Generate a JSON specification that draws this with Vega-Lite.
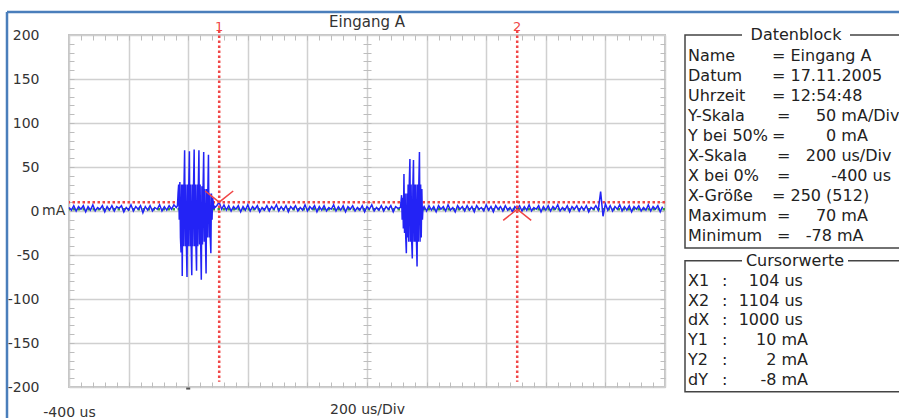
{
"$schema":"https://vega.github.io/schema/vega-lite/v6.json",
"width":596,"height":352,
"autosize":{"type":"none"},
"padding":{"left":69,"top":35,"right":234,"bottom":31},
"background":"#ffffff",
"config":{"view":{"stroke":"#c4c4c4","strokeWidth":2},"font":"DejaVu Sans","axis":{"labelFont":"DejaVu Sans","titleFont":"DejaVu Sans"}},
"datasets":{
"trace":[
{"t":-400,"i":4},{"t":-392,"i":1},{"t":-384,"i":6},{"t":-376,"i":0},{"t":-368,"i":5},{"t":-360,"i":2},{"t":-352,"i":6},{"t":-344,"i":-1},{"t":-336,"i":5},{"t":-328,"i":1},
{"t":-320,"i":7},{"t":-312,"i":0},{"t":-304,"i":4},{"t":-296,"i":2},{"t":-288,"i":6},{"t":-280,"i":-1},{"t":-272,"i":5},{"t":-264,"i":1},{"t":-256,"i":6},{"t":-248,"i":0},
{"t":-240,"i":5},{"t":-232,"i":3},{"t":-224,"i":6},{"t":-216,"i":-1},{"t":-208,"i":4},{"t":-200,"i":1},{"t":-192,"i":7},{"t":-184,"i":0},{"t":-176,"i":5},{"t":-168,"i":2},
{"t":-160,"i":6},{"t":-152,"i":-2},{"t":-144,"i":5},{"t":-136,"i":1},{"t":-128,"i":6},{"t":-120,"i":0},{"t":-112,"i":4},{"t":-104,"i":2},{"t":-96,"i":7},{"t":-88,"i":0},
{"t":-80,"i":5},{"t":-72,"i":1},{"t":-64,"i":6},{"t":-56,"i":2},{"t":-48,"i":7},{"t":-40,"i":4},
{"t":-36,"i":6},{"t":-34,"i":20},{"t":-32,"i":30},{"t":-30,"i":-10},{"t":-28,"i":33},{"t":-26,"i":-30},{"t":-24,"i":-47},{"t":-22,"i":30},{"t":-20,"i":-74},{"t":-18,"i":30},
{"t":-16,"i":-40},{"t":-14,"i":30},{"t":-12,"i":69},{"t":-10,"i":-40},{"t":-8,"i":30},{"t":-6,"i":-40},{"t":-4,"i":-75},{"t":-2,"i":30},{"t":0,"i":-40},{"t":2,"i":30},
{"t":4,"i":68},{"t":6,"i":-40},{"t":8,"i":30},{"t":10,"i":-40},{"t":12,"i":-73},{"t":14,"i":30},{"t":16,"i":-40},{"t":18,"i":32},{"t":20,"i":70},{"t":22,"i":-40},
{"t":24,"i":30},{"t":26,"i":-40},{"t":28,"i":-68},{"t":30,"i":30},{"t":32,"i":-40},{"t":34,"i":30},{"t":36,"i":69},{"t":38,"i":-38},{"t":40,"i":30},{"t":42,"i":-40},
{"t":44,"i":-78},{"t":46,"i":28},{"t":48,"i":-38},{"t":50,"i":28},{"t":52,"i":67},{"t":54,"i":-35},{"t":56,"i":25},{"t":58,"i":-35},{"t":60,"i":-71},{"t":62,"i":25},
{"t":64,"i":-30},{"t":66,"i":25},{"t":68,"i":64},{"t":70,"i":-30},{"t":72,"i":20},{"t":74,"i":-30},{"t":76,"i":-48},{"t":78,"i":20},{"t":80,"i":-10},{"t":82,"i":15},
{"t":84,"i":10},{"t":86,"i":2},{"t":88,"i":6},{"t":90,"i":4},
{"t":96,"i":6},{"t":104,"i":10},{"t":112,"i":2},{"t":120,"i":7},{"t":128,"i":1},{"t":136,"i":6},{"t":144,"i":0},{"t":152,"i":5},{"t":160,"i":2},{"t":168,"i":6},
{"t":176,"i":-1},{"t":184,"i":5},{"t":192,"i":1},{"t":200,"i":7},{"t":208,"i":0},{"t":216,"i":5},{"t":224,"i":2},{"t":232,"i":6},{"t":240,"i":-1},{"t":248,"i":4},
{"t":256,"i":1},{"t":264,"i":6},{"t":272,"i":0},{"t":280,"i":5},{"t":288,"i":2},{"t":296,"i":7},{"t":304,"i":0},{"t":312,"i":5},{"t":320,"i":1},{"t":328,"i":6},
{"t":336,"i":-1},{"t":344,"i":5},{"t":352,"i":2},{"t":360,"i":6},{"t":368,"i":0},{"t":376,"i":4},{"t":384,"i":1},{"t":392,"i":7},{"t":400,"i":0},{"t":408,"i":5},
{"t":416,"i":2},{"t":424,"i":6},{"t":432,"i":-1},{"t":440,"i":5},{"t":448,"i":1},{"t":456,"i":6},{"t":464,"i":0},{"t":472,"i":4},{"t":480,"i":2},{"t":488,"i":7},
{"t":496,"i":0},{"t":504,"i":5},{"t":512,"i":1},{"t":520,"i":6},{"t":528,"i":-1},{"t":536,"i":5},{"t":544,"i":2},{"t":552,"i":6},{"t":560,"i":0},{"t":568,"i":4},
{"t":576,"i":1},{"t":584,"i":6},{"t":592,"i":-1},{"t":600,"i":5},{"t":608,"i":2},{"t":616,"i":7},{"t":624,"i":0},{"t":632,"i":4},{"t":640,"i":1},{"t":648,"i":6},
{"t":656,"i":0},{"t":664,"i":5},{"t":672,"i":2},{"t":680,"i":6},{"t":688,"i":-1},{"t":696,"i":5},{"t":704,"i":3},
{"t":712,"i":4},{"t":714,"i":10},{"t":716,"i":18},{"t":718,"i":-10},{"t":720,"i":15},{"t":722,"i":-20},{"t":724,"i":42},{"t":726,"i":-25},{"t":728,"i":20},{"t":730,"i":-30},
{"t":732,"i":-48},{"t":734,"i":20},{"t":736,"i":-30},{"t":738,"i":30},{"t":740,"i":-35},{"t":742,"i":33},{"t":744,"i":59},{"t":746,"i":-35},{"t":748,"i":30},{"t":750,"i":-35},
{"t":752,"i":-54},{"t":754,"i":30},{"t":756,"i":58},{"t":758,"i":-35},{"t":760,"i":30},{"t":762,"i":-35},{"t":764,"i":30},{"t":766,"i":-35},{"t":768,"i":-63},{"t":770,"i":30},
{"t":772,"i":-35},{"t":774,"i":33},{"t":776,"i":67},{"t":778,"i":-35},{"t":780,"i":30},{"t":782,"i":-30},{"t":784,"i":25},{"t":786,"i":-10},{"t":788,"i":5},{"t":790,"i":3},
{"t":792,"i":5},{"t":800,"i":0},{"t":808,"i":6},{"t":816,"i":1},{"t":824,"i":5},{"t":832,"i":-1},{"t":840,"i":6},{"t":848,"i":2},{"t":856,"i":5},{"t":864,"i":0},
{"t":872,"i":7},{"t":880,"i":1},{"t":888,"i":4},{"t":896,"i":-1},{"t":904,"i":6},{"t":912,"i":2},{"t":920,"i":5},{"t":928,"i":0},{"t":936,"i":6},{"t":944,"i":1},
{"t":952,"i":5},{"t":960,"i":-1},{"t":968,"i":6},{"t":976,"i":2},{"t":984,"i":4},{"t":992,"i":0},{"t":1000,"i":7},{"t":1008,"i":1},{"t":1016,"i":5},{"t":1024,"i":-1},
{"t":1032,"i":6},{"t":1040,"i":2},{"t":1048,"i":5},{"t":1056,"i":0},{"t":1064,"i":6},{"t":1072,"i":1},{"t":1080,"i":4},{"t":1088,"i":-1},{"t":1096,"i":5},{"t":1104,"i":2},
{"t":1112,"i":6},{"t":1120,"i":0},{"t":1128,"i":5},{"t":1136,"i":1},{"t":1144,"i":7},{"t":1152,"i":0},{"t":1160,"i":4},{"t":1168,"i":2},{"t":1176,"i":6},{"t":1184,"i":-1},
{"t":1192,"i":5},{"t":1200,"i":1},{"t":1208,"i":6},{"t":1216,"i":0},{"t":1224,"i":5},{"t":1232,"i":2},{"t":1240,"i":7},{"t":1248,"i":0},{"t":1256,"i":4},{"t":1264,"i":1},
{"t":1272,"i":6},{"t":1280,"i":-1},{"t":1288,"i":5},{"t":1296,"i":2},{"t":1304,"i":6},{"t":1312,"i":0},{"t":1320,"i":5},{"t":1328,"i":1},{"t":1336,"i":6},{"t":1344,"i":-1},
{"t":1352,"i":4},{"t":1360,"i":2},{"t":1368,"i":6},{"t":1376,"i":1},{"t":1384,"i":22},{"t":1392,"i":-6},{"t":1400,"i":8},{"t":1408,"i":1},{"t":1416,"i":6},{"t":1424,"i":0},
{"t":1432,"i":5},{"t":1440,"i":2},{"t":1448,"i":7},{"t":1456,"i":0},{"t":1464,"i":5},{"t":1472,"i":1},{"t":1480,"i":6},{"t":1488,"i":-1},{"t":1496,"i":5},{"t":1504,"i":2},
{"t":1512,"i":6},{"t":1520,"i":0},{"t":1528,"i":4},{"t":1536,"i":1},{"t":1544,"i":7},{"t":1552,"i":0},{"t":1560,"i":5},{"t":1568,"i":2},{"t":1576,"i":6},{"t":1584,"i":-1},
{"t":1592,"i":5}
],
"cursors":[{"c":"1","t":104,"v":10},{"c":"2","t":1104,"v":2}],
"db":[
{"line":0,"k":"Name","r":"= Eingang A"},
{"line":1,"k":"Datum","r":"= 17.11.2005"},
{"line":2,"k":"Uhrzeit","r":"= 12:54:48"},
{"line":3,"k":"Y-Skala","r":"\u200b\u00a0=\u00a0\u00a0\u00a0\u00a0\u00a050 mA/Div"},
{"line":4,"k":"Y bei 50%","r":"=\u00a0\u00a0\u00a0\u00a0\u00a0\u00a0\u00a0\u00a00 mA"},
{"line":5,"k":"X-Skala","r":"\u200b\u00a0=\u00a0\u00a0\u00a0200 us/Div"},
{"line":6,"k":"X bei 0%","r":"\u200b\u00a0=\u00a0\u00a0\u00a0\u00a0\u00a0\u00a0\u00a0\u00a0-400 us"},
{"line":7,"k":"X-Größe","r":"= 250 (512)"},
{"line":8,"k":"Maximum","r":"\u200b\u00a0=\u00a0\u00a0\u00a0\u00a0\u00a070 mA"},
{"line":9,"k":"Minimum","r":"\u200b\u00a0=\u00a0\u00a0\u00a0-78 mA"}
],
"cw":[
{"line":11.24,"k":"X1","val":"104 us\u00a0\u200b"},
{"line":12.23,"k":"X2","val":"1104 us\u00a0\u200b"},
{"line":13.22,"k":"dX","val":"1000 us\u00a0\u200b"},
{"line":14.21,"k":"Y1","val":"10 mA"},
{"line":15.2,"k":"Y2","val":"2 mA"},
{"line":16.19,"k":"dY","val":"-8 mA"}
]
},
"resolve":{"scale":{"x":"independent","y":"independent"},"axis":{"x":"independent","y":"independent"}},
"layer":[
{
"resolve":{"axis":{"x":"independent","y":"independent"}},
"layer":[
{"data":{"name":"cursors"},
 "mark":{"type":"rule","strokeWidth":2.5,"strokeDash":[2.5,2.5]},
 "encoding":{
  "y":{"field":"v","type":"quantitative","axis":{"orient":"left","offset":-302,"values":[-190,-180,-170,-160,-150,-140,-130,-120,-110,-100,-90,-80,-70,-60,-50,-40,-30,-20,-10,0,10,20,30,40,50,60,70,80,90,100,110,120,130,140,150,160,170,180,190],"tickSize":8,"tickColor":"#bdbdbd","labels":false,"domain":false,"grid":false,"title":null}},
  "color":{"field":"c","type":"nominal","scale":{"domain":["1","2"],"range":["#f04545","#3aa03a"]},"legend":null}}},
{"data":{"name":"trace"},
 "mark":{"type":"line","color":"#2323f5","strokeWidth":1.5},
 "encoding":{
  "x":{"field":"t","type":"quantitative","scale":{"domain":[-400,1600],"nice":false,"zero":false},
   "axis":{"orient":"bottom","values":[-400,-200,0,200,400,600,800,1000,1200,1400,1600],"grid":true,"gridColor":"#d0d0d0","gridWidth":1.5,"ticks":false,"domain":false,"labelExpr":"datum.value == -400 ? '-400 us' : ''","labelFlush":false,"labelOverlap":false,"labelAlign":"center","labelFontSize":14,"labelColor":"#333333","labelPadding":18,"title":"200 us/Div","titleFontSize":14,"titleFontWeight":"normal","titleColor":"#333333","titlePadding":-17}},
  "y":{"field":"i","type":"quantitative","scale":{"domain":[-200,200],"nice":false,"zero":false},
   "axis":{"orient":"left","values":[-200,-150,-100,-50,0,50,100,150,200],"grid":true,"gridColor":"#d0d0d0","gridWidth":1.5,"ticks":false,"domain":false,"labelExpr":"datum.value == 0 ? '0' : '' + datum.value","labelFontSize":14,"labelColor":"#333333","labelPadding":30,"title":null}}}},
{"data":{"name":"cursors"},
 "mark":{"type":"rule","color":"#f04545","strokeWidth":2.5,"strokeDash":[2.5,2.5]},
 "encoding":{
  "x":{"field":"t","type":"quantitative","axis":{"orient":"top","values":[-360,-320,-280,-240,-200,-160,-120,-80,-40,0,40,80,120,160,200,240,280,320,360,400,440,480,520,560,600,640,680,720,760,800,840,880,920,960,1000,1040,1080,1120,1160,1200,1240,1280,1320,1360,1400,1440,1480,1520,1560],"tickSize":-5,"tickColor":"#bdbdbd","labels":false,"domain":false,"grid":false,"title":null}},
  "y":{"datum":205,"axis":{"orient":"right","values":[-190,-180,-170,-160,-150,-140,-130,-120,-110,-100,-90,-80,-70,-60,-50,-40,-30,-20,-10,0,10,20,30,40,50,60,70,80,90,100,110,120,130,140,150,160,170,180,190],"tickSize":-5,"tickColor":"#bdbdbd","labels":false,"domain":false,"grid":false,"title":null}},
  "y2":{"datum":-194}}},
{"data":{"name":"cursors"},
 "mark":{"type":"point","filled":false,"size":784,"strokeWidth":1.5,"color":"#f04545","opacity":1},
 "encoding":{
  "x":{"field":"t","type":"quantitative","axis":{"orient":"bottom","values":[-360,-320,-280,-240,-200,-160,-120,-80,-40,0,40,80,120,160,200,240,280,320,360,400,440,480,520,560,600,640,680,720,760,800,840,880,920,960,1000,1040,1080,1120,1160,1200,1240,1280,1320,1360,1400,1440,1480,1520,1560],"tickSize":-5,"tickColor":"#bdbdbd","labels":false,"domain":false,"grid":false,"title":null}},
  "y":{"field":"v","type":"quantitative","axis":{"orient":"left","values":[-190,-180,-170,-160,-150,-140,-130,-120,-110,-100,-90,-80,-70,-60,-50,-40,-30,-20,-10,0,10,20,30,40,50,60,70,80,90,100,110,120,130,140,150,160,170,180,190],"tickSize":-5,"tickColor":"#bdbdbd","labels":false,"domain":false,"grid":false,"title":null}},
  "shape":{"field":"c","type":"nominal","scale":{"domain":["1","2"],"range":["M-1,-0.8L0,0L1,-0.8","M-1,0.8L0,0L1,0.8"]},"legend":null}}},
{"data":{"name":"cursors"},
 "mark":{"type":"text","color":"#f04545","fontSize":13,"baseline":"middle","align":"center"},
 "encoding":{
  "x":{"field":"t","type":"quantitative","axis":null},
  "y":{"datum":209,"axis":null},
  "text":{"field":"c"}}},
{"data":{"values":[{"u":"mA"}]},
 "mark":{"type":"text","color":"#333333","fontSize":14,"baseline":"middle","align":"left","dx":-27},
 "encoding":{
  "x":{"datum":-400,"axis":null},
  "y":{"datum":0,"axis":null},
  "text":{"field":"u"}}},
{"data":{"values":[{"name":"Eingang A"}]},
 "mark":{"type":"text","color":"#333333","fontSize":15,"baseline":"middle","align":"center","dy":-13},
 "encoding":{
  "x":{"datum":600,"axis":null},
  "y":{"datum":200,"axis":null},
  "text":{"field":"name"}}},
{"data":{"values":[{"t":0}]},
 "mark":{"type":"point","shape":"stroke","size":16,"strokeWidth":2,"color":"#111111","filled":false},
 "encoding":{
  "x":{"field":"t","type":"quantitative","axis":null},
  "y":{"datum":-201.8,"axis":null}}}
]
},
{
"layer":[
{"data":{"values":[{}]},
 "mark":{"type":"rule","color":"#4a7ebb","strokeWidth":2.5},
 "encoding":{
  "x":{"datum":-678,"scale":{"domain":[0,214],"range":[616,830],"nice":false,"zero":false},"axis":null},
  "x2":{"datum":240},
  "y":{"datum":-2.2,"scale":{"domain":[0,10],"range":[21,221],"nice":false,"zero":false},"axis":null}}},
{"data":{"values":[{}]},
 "mark":{"type":"rule","color":"#4a7ebb","strokeWidth":2.5},
 "encoding":{
  "x":{"datum":-678,"axis":null},
  "y":{"datum":-2.2,"axis":null},
  "y2":{"datum":19}}},
{"data":{"values":[{}]},
 "mark":{"type":"rect","fill":"#ffffff","fillOpacity":0,"stroke":"#444444","strokeWidth":1.5},
 "encoding":{
  "x":{"datum":0,"axis":null},"x2":{"datum":240},
  "y":{"datum":-1.05,"axis":null},"y2":{"datum":9.6}}},
{"data":{"values":[{}]},
 "mark":{"type":"rect","fill":"#ffffff","fillOpacity":0,"stroke":"#444444","strokeWidth":1.5},
 "encoding":{
  "x":{"datum":0,"axis":null},"x2":{"datum":240},
  "y":{"datum":10.24,"axis":null},"y2":{"datum":16.79}}},
{"data":{"values":[{}]},
 "mark":{"type":"rule","color":"#ffffff","strokeWidth":6},
 "encoding":{
  "x":{"datum":57,"axis":null},"x2":{"datum":165},
  "y":{"datum":-1.05,"axis":null}}},
{"data":{"values":[{}]},
 "mark":{"type":"rule","color":"#ffffff","strokeWidth":6},
 "encoding":{
  "x":{"datum":57,"axis":null},"x2":{"datum":163},
  "y":{"datum":10.24,"axis":null}}},
{"data":{"values":[{}]},
 "mark":{"type":"text","fontSize":16,"color":"#222222","align":"center","baseline":"middle"},
 "encoding":{
  "x":{"datum":111,"axis":null},
  "y":{"datum":-1.05,"axis":null},
  "text":{"value":"Datenblock"}}},
{"data":{"values":[{}]},
 "mark":{"type":"text","fontSize":16,"color":"#222222","align":"center","baseline":"middle"},
 "encoding":{
  "x":{"datum":110,"axis":null},
  "y":{"datum":10.24,"axis":null},
  "text":{"value":"Cursorwerte"}}},
{"data":{"name":"db"},
 "mark":{"type":"text","fontSize":16,"color":"#222222","align":"left","baseline":"middle"},
 "encoding":{
  "x":{"datum":3,"axis":null},
  "y":{"field":"line","type":"quantitative","axis":null},
  "text":{"field":"k"}}},
{"data":{"name":"db"},
 "mark":{"type":"text","fontSize":16,"color":"#222222","align":"left","baseline":"middle"},
 "encoding":{
  "x":{"datum":87,"axis":null},
  "y":{"field":"line","type":"quantitative","axis":null},
  "text":{"field":"r"}}},
{"data":{"name":"cw"},
 "mark":{"type":"text","fontSize":16,"color":"#222222","align":"left","baseline":"middle"},
 "encoding":{
  "x":{"datum":3,"axis":null},
  "y":{"field":"line","type":"quantitative","axis":null},
  "text":{"field":"k"}}},
{"data":{"name":"cw"},
 "mark":{"type":"text","fontSize":16,"color":"#222222","align":"left","baseline":"middle"},
 "encoding":{
  "x":{"datum":37,"axis":null},
  "y":{"field":"line","type":"quantitative","axis":null},
  "text":{"value":":"}}},
{"data":{"name":"cw"},
 "mark":{"type":"text","fontSize":16,"color":"#222222","align":"right","baseline":"middle"},
 "encoding":{
  "x":{"datum":123,"axis":null},
  "y":{"field":"line","type":"quantitative","axis":null},
  "text":{"field":"val"}}}
]
}
]
}
